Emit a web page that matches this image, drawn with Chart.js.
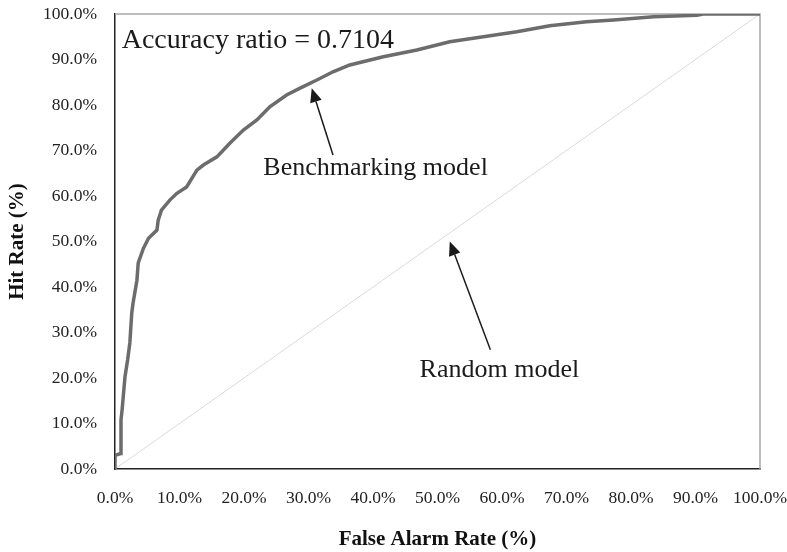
<!DOCTYPE html>
<html>
<head>
<meta charset="utf-8">
<title>Accuracy ratio</title>
<script src="https://cdn.jsdelivr.net/npm/chart.js@4.4.0/dist/chart.umd.min.js"></script>
<style>
    body { margin: 0; background: #fff; }
    #wrap { width: 787px; height: 552px; }
</style>
</head>
<body>
<div id="wrap"><canvas id="rocChart" width="787" height="552"></canvas></div>
<script>
// Benchmarking model curve (percent)
const falseAlarmRate = [0, 0, 0.9, 0.93, 0.93, 1.1, 1.55, 1.96, 2.3, 2.6, 2.8, 3.4, 3.6, 4.4, 5.2, 6.5,
    6.7, 7.2, 8.5, 9.6, 11.1, 12.7, 13.7, 15.8, 17.8, 19.9, 22, 24, 26.6, 28.7, 31.3, 33.8, 36.4,
    41.6, 46.8, 51.9, 57.1, 62.3, 67.4, 73.1, 77.3, 83.5, 90.2, 91.2, 100];
const hitRate = [0, 3.0, 3.4, 4.2, 10.8, 13, 20.3, 24, 27.7, 34.3, 36.5, 41.5, 45.3, 48.5, 50.7, 52.5,
    54.7, 56.9, 59.1, 60.6, 62, 65.7, 66.8, 68.6, 71.6, 74.5, 76.7, 79.6, 82.2, 83.7, 85.5, 87.3, 88.8,
    90.6, 92.1, 93.9, 95, 96.1, 97.4, 98.3, 98.7, 99.4, 99.7, 100, 100];

// Random model diagonal
const randomX = [0, 100];
const randomY = [0, 100];

// Axis ticks
const tickMin = 0;
const tickMax = 100;
const tickStep = 10;

const xTitle = 'False Alarm Rate (%)';
const yTitle = 'Hit Rate (%)';

// Text notes and arrows, placed in data units
const notes = [
    { text: 'Accuracy ratio = 0.7104', x: 1.04, y: 92.5, align: 'left', size: 28 },
    { text: 'Benchmarking model', x: 40.4, y: 64.6, align: 'center', size: 26 },
    { text: 'Random model', x: 59.6, y: 20.3, align: 'center', size: 26 }
];
const arrows = [
    { from: [33.8, 69.0], to: [30.5, 83.7] },
    { from: [58.2, 26.2], to: [51.9, 50.0] }
];

const serif = '"Liberation Serif", "Times New Roman", serif';

function toPoints(xs, ys) {
    return xs.map((x, i) => ({ x: x, y: ys[i] }));
}

// Gray frame on top/right, notes and arrows on top of the curves
const notesPlugin = {
    id: 'notes',
    beforeDatasetsDraw(chart) {
        const { ctx, chartArea } = chart;
        ctx.save();
        ctx.strokeStyle = '#a8a8a8';
        ctx.lineWidth = 1.5;
        ctx.beginPath();
        ctx.moveTo(chartArea.left, chartArea.top);
        ctx.lineTo(chartArea.right, chartArea.top);
        ctx.lineTo(chartArea.right, chartArea.bottom);
        ctx.stroke();
        ctx.restore();
    },
    afterDatasetsDraw(chart) {
        const { ctx, scales } = chart;
        const px = v => scales.x.getPixelForValue(v);
        const py = v => scales.y.getPixelForValue(v);
        ctx.save();
        ctx.fillStyle = '#1a1a1a';
        ctx.textBaseline = 'alphabetic';
        notes.forEach(n => {
            ctx.font = n.size + 'px ' + serif;
            ctx.textAlign = n.align;
            ctx.fillText(n.text, px(n.x), py(n.y));
        });

        arrows.forEach(a => {
            const x1 = px(a.from[0]), y1 = py(a.from[1]);
            const x2 = px(a.to[0]), y2 = py(a.to[1]);
            const ang = Math.atan2(y2 - y1, x2 - x1);
            const headLen = 14, headW = 6;
            const bx = x2 - headLen * Math.cos(ang);
            const by = y2 - headLen * Math.sin(ang);
            ctx.strokeStyle = '#1a1a1a';
            ctx.lineWidth = 1.5;
            ctx.beginPath();
            ctx.moveTo(x1, y1);
            ctx.lineTo(bx, by);
            ctx.stroke();
            ctx.beginPath();
            ctx.moveTo(x2, y2);
            ctx.lineTo(bx + headW * Math.sin(ang), by - headW * Math.cos(ang));
            ctx.lineTo(bx - headW * Math.sin(ang), by + headW * Math.cos(ang));
            ctx.closePath();
            ctx.fill();
        });
        ctx.restore();
    }
};

const ctx = document.getElementById('rocChart').getContext('2d');
new Chart(ctx, {
    type: 'scatter',
    data: {
        datasets: [
            {
                label: 'Benchmarking model',
                data: toPoints(falseAlarmRate, hitRate),
                showLine: true,
                borderColor: '#6c6c6c',
                borderWidth: 3.5,
                pointRadius: 0,
                tension: 0,
                order: 1
            },
            {
                label: 'Random model',
                data: toPoints(randomX, randomY),
                showLine: true,
                borderColor: '#dadada',
                borderWidth: 1,
                pointRadius: 0,
                order: 2
            }
        ]
    },
    options: {
        responsive: false,
        animation: false,
        devicePixelRatio: 1,
        layout: { padding: { top: 14, right: 27, left: 0, bottom: 0 } },
        plugins: {
            legend: { display: false },
            tooltip: { enabled: false }
        },
        scales: {
            x: {
                type: 'linear',
                min: tickMin,
                max: tickMax,
                grid: { display: false, drawTicks: false },
                border: { display: true, color: '#222', width: 1.5 },
                ticks: {
                    stepSize: tickStep,
                    padding: 19,
                    color: '#222',
                    maxRotation: 0,
                    font: { family: serif, size: 17.5 },
                    callback: v => v.toFixed(1) + '%'
                },
                title: {
                    display: true,
                    text: xTitle,
                    color: '#111',
                    padding: { top: 0, bottom: 0 },
                    font: { family: serif, size: 21, weight: 'bold' }
                },
                afterFit(scale) {
                    scale.height = 83;
                    scale.paddingLeft = 0;
                    scale.paddingRight = 0;
                }
            },
            y: {
                type: 'linear',
                min: tickMin,
                max: tickMax,
                grid: { display: false, drawTicks: false },
                border: { display: true, color: '#222', width: 1.5 },
                ticks: {
                    stepSize: tickStep,
                    padding: 18,
                    color: '#222',
                    font: { family: serif, size: 17.5 },
                    callback: v => v.toFixed(1) + '%'
                },
                title: {
                    display: true,
                    text: yTitle,
                    color: '#111',
                    padding: { top: 5, bottom: 0 },
                    font: { family: serif, size: 21, weight: 'bold' }
                },
                afterFit(scale) {
                    scale.width = 115;
                    scale.paddingTop = 0;
                    scale.paddingBottom = 0;
                }
            }
        }
    },
    plugins: [notesPlugin]
});
</script>
</body>
</html>
